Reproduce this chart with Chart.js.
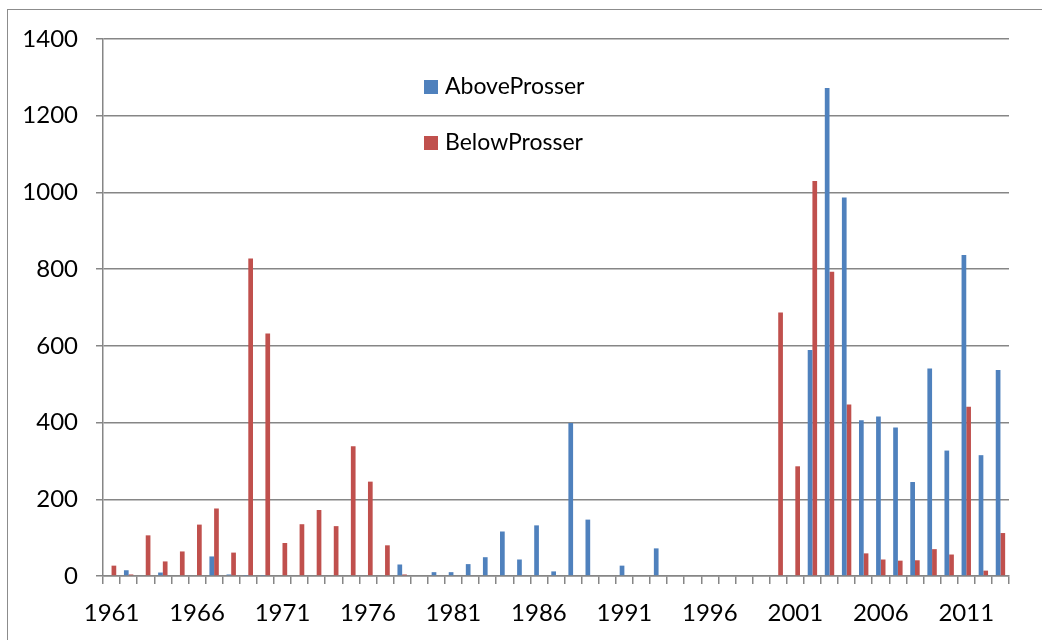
<!DOCTYPE html>
<html>
<head>
<meta charset="utf-8">
<script src="https://cdn.jsdelivr.net/npm/chart.js@4.4.1/dist/chart.umd.min.js"></script>
<style>
  html, body { margin: 0; padding: 0; background: #fff; overflow: hidden; }
  #wrap { position: relative; width: 1042px; height: 640px; }
  #frame {
    position: absolute; left: 7px; top: 9px; width: 1100px; height: 700px;
    border: 1.5px solid #8c8c8c; pointer-events: none;
  }
</style>
</head>
<body>
<div id="wrap">
  <canvas id="chart" width="1042" height="640"></canvas>
  <div id="frame"></div>
</div>
<script>
const years = [];
for (let y = 1961; y <= 2013; y++) years.push(String(y));

const aboveProsser = [
  0, 15, 0, 9, 0, 0, 51, 4, 1, 1,          // 1961-1970
  0, 0, 0, 0, 0, 0, 0, 30, 0, 10,          // 1971-1980
  10, 31, 49, 116, 43, 132, 12, 399, 147, 0, // 1981-1990
  27, 0, 72, 0, 0, 0, 0, 0, 0, 0,          // 1991-2000
  0, 589, 1272, 987, 406, 416, 387, 245, 541, 327, // 2001-2010
  837, 315, 537                            // 2011-2013
];
const belowProsser = [
  27, 4, 106, 38, 64, 134, 176, 61, 828, 632, // 1961-1970
  86, 135, 172, 130, 338, 246, 80, 4, 0, 0,   // 1971-1980
  0, 0, 0, 0, 0, 0, 0, 0, 0, 0,               // 1981-1990
  0, 0, 0, 0, 0, 0, 0, 0, 0, 687,             // 1991-2000
  286, 1030, 793, 447, 59, 43, 40, 41, 70, 56, // 2001-2010
  441, 14, 112                                // 2011-2013
];
const yTicks = [0, 200, 400, 600, 800, 1000, 1200, 1400];

const blue = "#4F81BD";
const red = "#C0504D";
const gridColor = "#868686";
const font = "Lato";

// legend drawn inside the plot, like the Excel original
const insideLegend = {
  id: "insideLegend",
  afterDraw(chart) {
    const c = chart.ctx;
    const items = [
      { text: "AboveProsser", color: blue, y: 87 },
      { text: "BelowProsser", color: red, y: 143 },
    ];
    c.save();
    c.font = "23px " + font;
    c.textBaseline = "middle";
    items.forEach((it) => {
      c.fillStyle = it.color;
      c.fillRect(424, it.y - 7, 14, 14);
      c.fillStyle = "#000";
      c.fillText(it.text, 445, it.y);
    });
    c.restore();
  },
};

new Chart(document.getElementById("chart"), {
  type: "bar",
  data: {
    labels: years,
    datasets: [
      { label: "AboveProsser", data: aboveProsser, backgroundColor: blue, categoryPercentage: 0.55, barPercentage: 1 },
      { label: "BelowProsser", data: belowProsser, backgroundColor: red, categoryPercentage: 0.55, barPercentage: 1 },
    ],
  },
  options: {
    responsive: false,
    animation: false,
    layout: { padding: { left: 0, right: 33, top: 39, bottom: 0 } },
    plugins: { legend: { display: false }, tooltip: { enabled: false } },
    scales: {
      x: {
        afterFit: (s) => { s.height = 64; },
        grid: { drawOnChartArea: false, drawTicks: true, tickLength: 8, color: gridColor, lineWidth: 1.5, offset: true },
        border: { color: gridColor, width: 1.5 },
        ticks: {
          autoSkip: false,
          maxRotation: 0,
          color: "#000",
          font: { family: font, size: 24 },
          padding: 15,
          callback: (v, i) => (i % 5 === 0 ? years[i] : ""),
        },
      },
      y: {
        min: 0,
        max: 1400,
        afterFit: (s) => { s.width = 103; },
        afterBuildTicks: (s) => { s.ticks = yTicks.map((v) => ({ value: v })); },
        grid: { color: gridColor, lineWidth: 1.5, tickLength: 7 },
        border: { color: gridColor, width: 1.5 },
        ticks: { color: "#000", font: { family: font, size: 24 }, padding: 18, callback: (v) => String(v) },
      },
    },
  },
  plugins: [insideLegend],
});
</script>
</body>
</html>
